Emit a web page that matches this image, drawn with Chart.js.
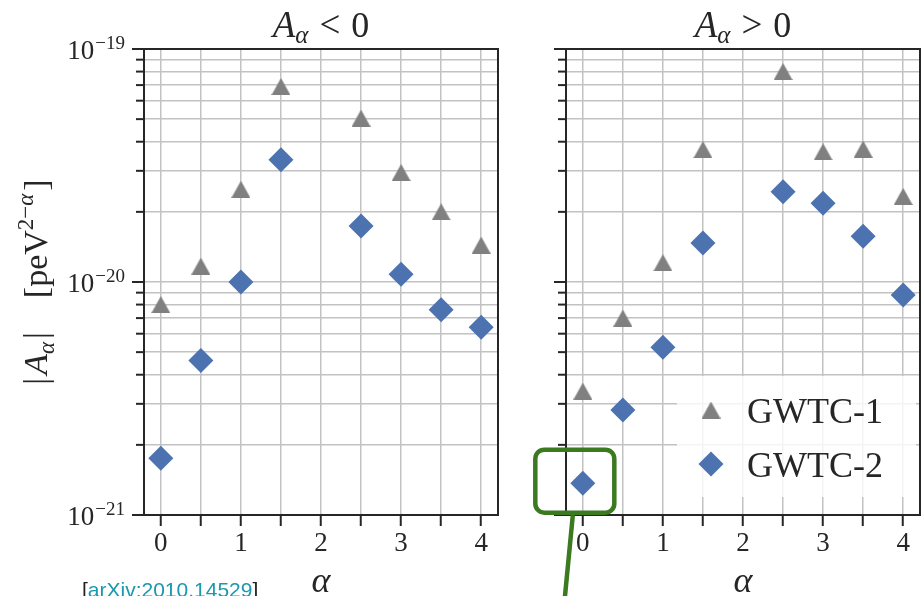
<!DOCTYPE html>
<html>
<head>
<meta charset="utf-8">
<script src="https://cdn.jsdelivr.net/npm/chart.js@4.4.1/dist/chart.umd.min.js"></script>
<style>
  html, body { margin: 0; padding: 0; background: #fff; width: 924px; height: 596px; overflow: hidden; }
  canvas { position: absolute; top: 0; }
  #chartNeg { left: 0; }
  #chartPos { left: 500px; }
</style>
</head>
<body>
<canvas id="chartNeg" width="500" height="596"></canvas>
<canvas id="chartPos" width="424" height="596"></canvas>
<script>
// Power-law index alpha of the modified dispersion term
const alphaValues = [0, 0.5, 1, 1.5, 2.5, 3, 3.5, 4];

// 90% upper bounds on |A_alpha| [peV^(2-alpha)], A_alpha < 0
const negGWTC1 = [8.0e-21, 1.17e-20, 2.5e-20, 6.9e-20, 5.05e-20, 2.95e-20, 2.0e-20, 1.44e-20];
const negGWTC2 = [1.75e-21, 4.6e-21, 1.0e-20, 3.35e-20, 1.74e-20, 1.08e-20, 7.6e-21, 6.4e-21];

// 90% upper bounds on |A_alpha| [peV^(2-alpha)], A_alpha > 0
const posGWTC1 = [3.4e-21, 7.0e-21, 1.21e-20, 3.7e-20, 8.0e-20, 3.62e-20, 3.72e-20, 2.33e-20];
const posGWTC2 = [1.37e-21, 2.82e-21, 5.25e-21, 1.47e-20, 2.44e-20, 2.18e-20, 1.57e-20, 8.8e-21];

// Axis ranges and ticks
const xRange = [-0.21, 4.21];
const xStep = 0.5;
const yDecades = [-21, -20, -19];
const yMantissas = [1, 2, 3, 4, 5, 6, 7, 8, 9];

const seriesNames = ['GWTC-1', 'GWTC-2'];
const INK = '#262626';
const GRID = '#c2c2c2';
const GRAY = '#808080';
const BLUE = '#4c72b0';
const GREEN = '#3b7a20';
const SERIF = '"Liberation Serif", "Times New Roman", serif';
const SANS = '"Liberation Sans", Arial, sans-serif';

// log grid: 1..9 x 10^n for each decade, closed by the top decade
const yTickValues = [];
yDecades.slice(0, -1).forEach(e => yMantissas.forEach(m => yTickValues.push(Number((m + 'e' + e)))));
yTickValues.push(Number('1e' + yDecades[yDecades.length - 1]));

function fnt(size, italic) { return (italic ? 'italic ' : '') + size + 'px ' + SERIF; }

// triangle marker with its box centred on the data point
function makeTriangle(color) {
  const c = document.createElement('canvas');
  c.width = 19; c.height = 17;
  const g = c.getContext('2d');
  g.fillStyle = color;
  g.beginPath(); g.moveTo(9.5, 0); g.lineTo(19, 17); g.lineTo(0, 17); g.closePath(); g.fill();
  return c;
}
const triangleMarker = makeTriangle(GRAY);

function richWidth(ctx, parts) {
  let w = 0;
  for (const p of parts) {
    if (p.gap) { w += p.gap; continue; }
    ctx.font = p.font; w += ctx.measureText(p.t).width;
  }
  return w;
}
function drawRich(ctx, parts, x, y, align) {
  const w = richWidth(ctx, parts);
  let cx = align === 'center' ? x - w / 2 : (align === 'right' ? x - w : x);
  ctx.textAlign = 'left'; ctx.textBaseline = 'alphabetic';
  for (const p of parts) {
    if (p.gap) { cx += p.gap; continue; }
    ctx.font = p.font;
    ctx.fillStyle = p.color || INK;
    ctx.fillText(p.t, cx, y + (p.dy || 0));
    cx += ctx.measureText(p.t).width;
  }
}
function roundRectPath(ctx, x, y, w, h, r) {
  ctx.beginPath();
  ctx.moveTo(x + r, y);
  ctx.lineTo(x + w - r, y); ctx.arcTo(x + w, y, x + w, y + r, r);
  ctx.lineTo(x + w, y + h - r); ctx.arcTo(x + w, y + h, x + w - r, y + h, r);
  ctx.lineTo(x + r, y + h); ctx.arcTo(x, y + h, x, y + h - r, r);
  ctx.lineTo(x, y + r); ctx.arcTo(x, y, x + r, y, r);
  ctx.closePath();
}
function isDecade(v) { const l = Math.log10(v); return Math.abs(l - Math.round(l)) < 1e-6; }
function toSup(n) { return String(n).replace('-', '\u2212'); }

function panelPlugin(cfg) {
  return {
    id: 'panel' + cfg.key,
    afterDraw(chart) {
      const ctx = chart.ctx, a = chart.chartArea, ys = chart.scales.y, xs = chart.scales.x;
      ctx.save();

      // y tick marks: long at decades, short in between
      ctx.strokeStyle = INK; ctx.lineWidth = 2;
      ys.ticks.forEach(t => {
        const y = ys.getPixelForValue(t.value);
        const len = isDecade(t.value) ? 12 : 8;
        ctx.beginPath(); ctx.moveTo(a.left - len, y); ctx.lineTo(a.left, y); ctx.stroke();
      });

      // frame
      ctx.strokeRect(a.left, a.top, a.right - a.left, a.bottom - a.top);

      // decade labels 10^n
      if (cfg.yLabels) {
        yDecades.forEach(e => {
          const y = ys.getPixelForValue(Number('1e' + e));
          drawRich(ctx, [
            { t: '10', font: fnt(27) },
            { gap: 1 },
            { t: toSup(e), font: fnt(19), dy: -10 }
          ], a.left - 19, y + 10, 'right');
        });
        // y-axis title
        ctx.save();
        ctx.translate(47, (a.top + a.bottom) / 2);
        ctx.rotate(-Math.PI / 2);
        drawRich(ctx, [
          { t: '|', font: fnt(34) }, { gap: 3 },
          { t: 'A', font: fnt(34, true) },
          { t: '\u03b1', font: fnt(23, true), dy: 7 }, { gap: 3 },
          { t: '|', font: fnt(34) },
          { gap: 34 },
          { t: '[peV', font: fnt(34) },
          { t: '2\u2212', font: fnt(23), dy: -14 },
          { t: '\u03b1', font: fnt(23, true), dy: -14 }, { gap: 3 },
          { t: ']', font: fnt(34) }
        ], 0, 0, 'center');
        ctx.restore();
      }

      const cx = (a.left + a.right) / 2;
      // panel title
      drawRich(ctx, [
        { t: 'A', font: fnt(37, true) },
        { t: '\u03b1', font: fnt(25, true), dy: 6 },
        { gap: 11 },
        { t: cfg.sign, font: fnt(37) },
        { gap: 11 },
        { t: '0', font: fnt(36) }
      ], cx, 37, 'center');

      // x-axis title
      drawRich(ctx, [{ t: '\u03b1', font: fnt(36, true) }], cx, 592, 'center');

      // legend
      if (cfg.legend) {
        const right = a.right - 4, bottom = a.bottom - 18;
        const lx = right - 239, ly = bottom - 121;
        ctx.fillStyle = 'rgba(255,255,255,0.82)';
        roundRectPath(ctx, lx, ly, 239, 121, 4); ctx.fill();
        chart.data.datasets.forEach((ds, i) => {
          const ry = ly + 34 + i * 54;
          ctx.fillStyle = ds.backgroundColor;
          Chart.helpers.drawPoint(ctx, { pointStyle: ds.pointStyle, rotation: 0, radius: ds.pointRadius, borderWidth: 0 }, lx + 34, ry);
          drawRich(ctx, [{ t: ds.label, font: fnt(36) }], lx + 70, ry + 13, 'left');
        });
      }

      // highlight box around the lowest GWTC-2 bound, with its leader line
      if (cfg.highlight) {
        const ds = chart.data.datasets[1];
        const p = ds.data[0];
        const px = xs.getPixelForValue(p.x), py = ys.getPixelForValue(p.y);
        ctx.strokeStyle = GREEN; ctx.lineWidth = 4.5;
        roundRectPath(ctx, px - 47.5, py - 33.5, 79, 63, 9); ctx.stroke();
        ctx.beginPath(); ctx.moveTo(px - 10, py + 32); ctx.lineTo(px - 19, py + 125); ctx.stroke();
      }

      // reference tag
      if (cfg.reference) {
        ctx.font = '21px ' + SANS;
        ctx.textAlign = 'left'; ctx.textBaseline = 'alphabetic';
        let x = 82;
        ctx.fillStyle = '#222'; ctx.fillText('[', x, 597); x += ctx.measureText('[').width;
        ctx.fillStyle = '#1a98ad'; ctx.fillText('arXiv:2010.14529', x, 597); x += ctx.measureText('arXiv:2010.14529').width;
        ctx.fillStyle = '#222'; ctx.fillText(']', x, 597);
      }
      ctx.restore();
    }
  };
}

function makePanel(canvasId, g1, g2, axisWidth, padRight, cfg) {
  const pts = vals => alphaValues.map((x, i) => ({ x, y: vals[i] }));
  return new Chart(document.getElementById(canvasId), {
    type: 'scatter',
    data: {
      datasets: [
        { label: seriesNames[0], data: pts(g1), pointStyle: triangleMarker, pointRadius: 10,
          backgroundColor: GRAY, borderWidth: 0, pointBorderWidth: 0, clip: false },
        { label: seriesNames[1], data: pts(g2), pointStyle: 'rectRot', pointRadius: 12.5,
          backgroundColor: BLUE, borderColor: BLUE, borderWidth: 0, pointBorderWidth: 0, clip: false }
      ]
    },
    options: {
      responsive: false,
      animation: false,
      devicePixelRatio: 1,
      events: [],
      // markers may overhang the frame; keep the plot area fixed
      layout: { autoPadding: false, padding: { top: 49, right: padRight, left: 0, bottom: 0 } },
      plugins: { legend: { display: false }, tooltip: { enabled: false }, title: { display: false } },
      scales: {
        x: {
          type: 'linear', min: xRange[0], max: xRange[1],
          border: { display: false },
          grid: { color: GRID, lineWidth: 1.5, drawTicks: true, tickLength: 11, tickColor: INK, tickWidth: 2 },
          ticks: {
            stepSize: xStep, includeBounds: false, autoSkip: false, maxRotation: 0, padding: 2,
            color: INK, font: { family: SERIF, size: 27 },
            callback: v => (Math.abs(v - Math.round(v)) < 1e-9 ? String(Math.round(v)) : '')
          },
          afterFit: s => { s.height = 81; s.paddingLeft = 0; s.paddingRight = 0; }
        },
        y: {
          type: 'logarithmic',
          min: yTickValues[0], max: yTickValues[yTickValues.length - 1],
          border: { display: false },
          grid: { color: GRID, lineWidth: 1.5, drawTicks: false },
          ticks: { display: false },
          afterBuildTicks: s => { s.ticks = yTickValues.map(v => ({ value: v })); },
          afterFit: s => { s.width = axisWidth; s.paddingTop = 0; s.paddingBottom = 0; }
        }
      }
    },
    plugins: [panelPlugin(cfg)]
  });
}

makePanel('chartNeg', negGWTC1, negGWTC2, 144, 2,
  { key: 'Neg', sign: '<', yLabels: true, legend: false, highlight: false, reference: true });
makePanel('chartPos', posGWTC1, posGWTC2, 66, 4,
  { key: 'Pos', sign: '>', yLabels: false, legend: true, highlight: true, reference: false });
</script>
</body>
</html>
